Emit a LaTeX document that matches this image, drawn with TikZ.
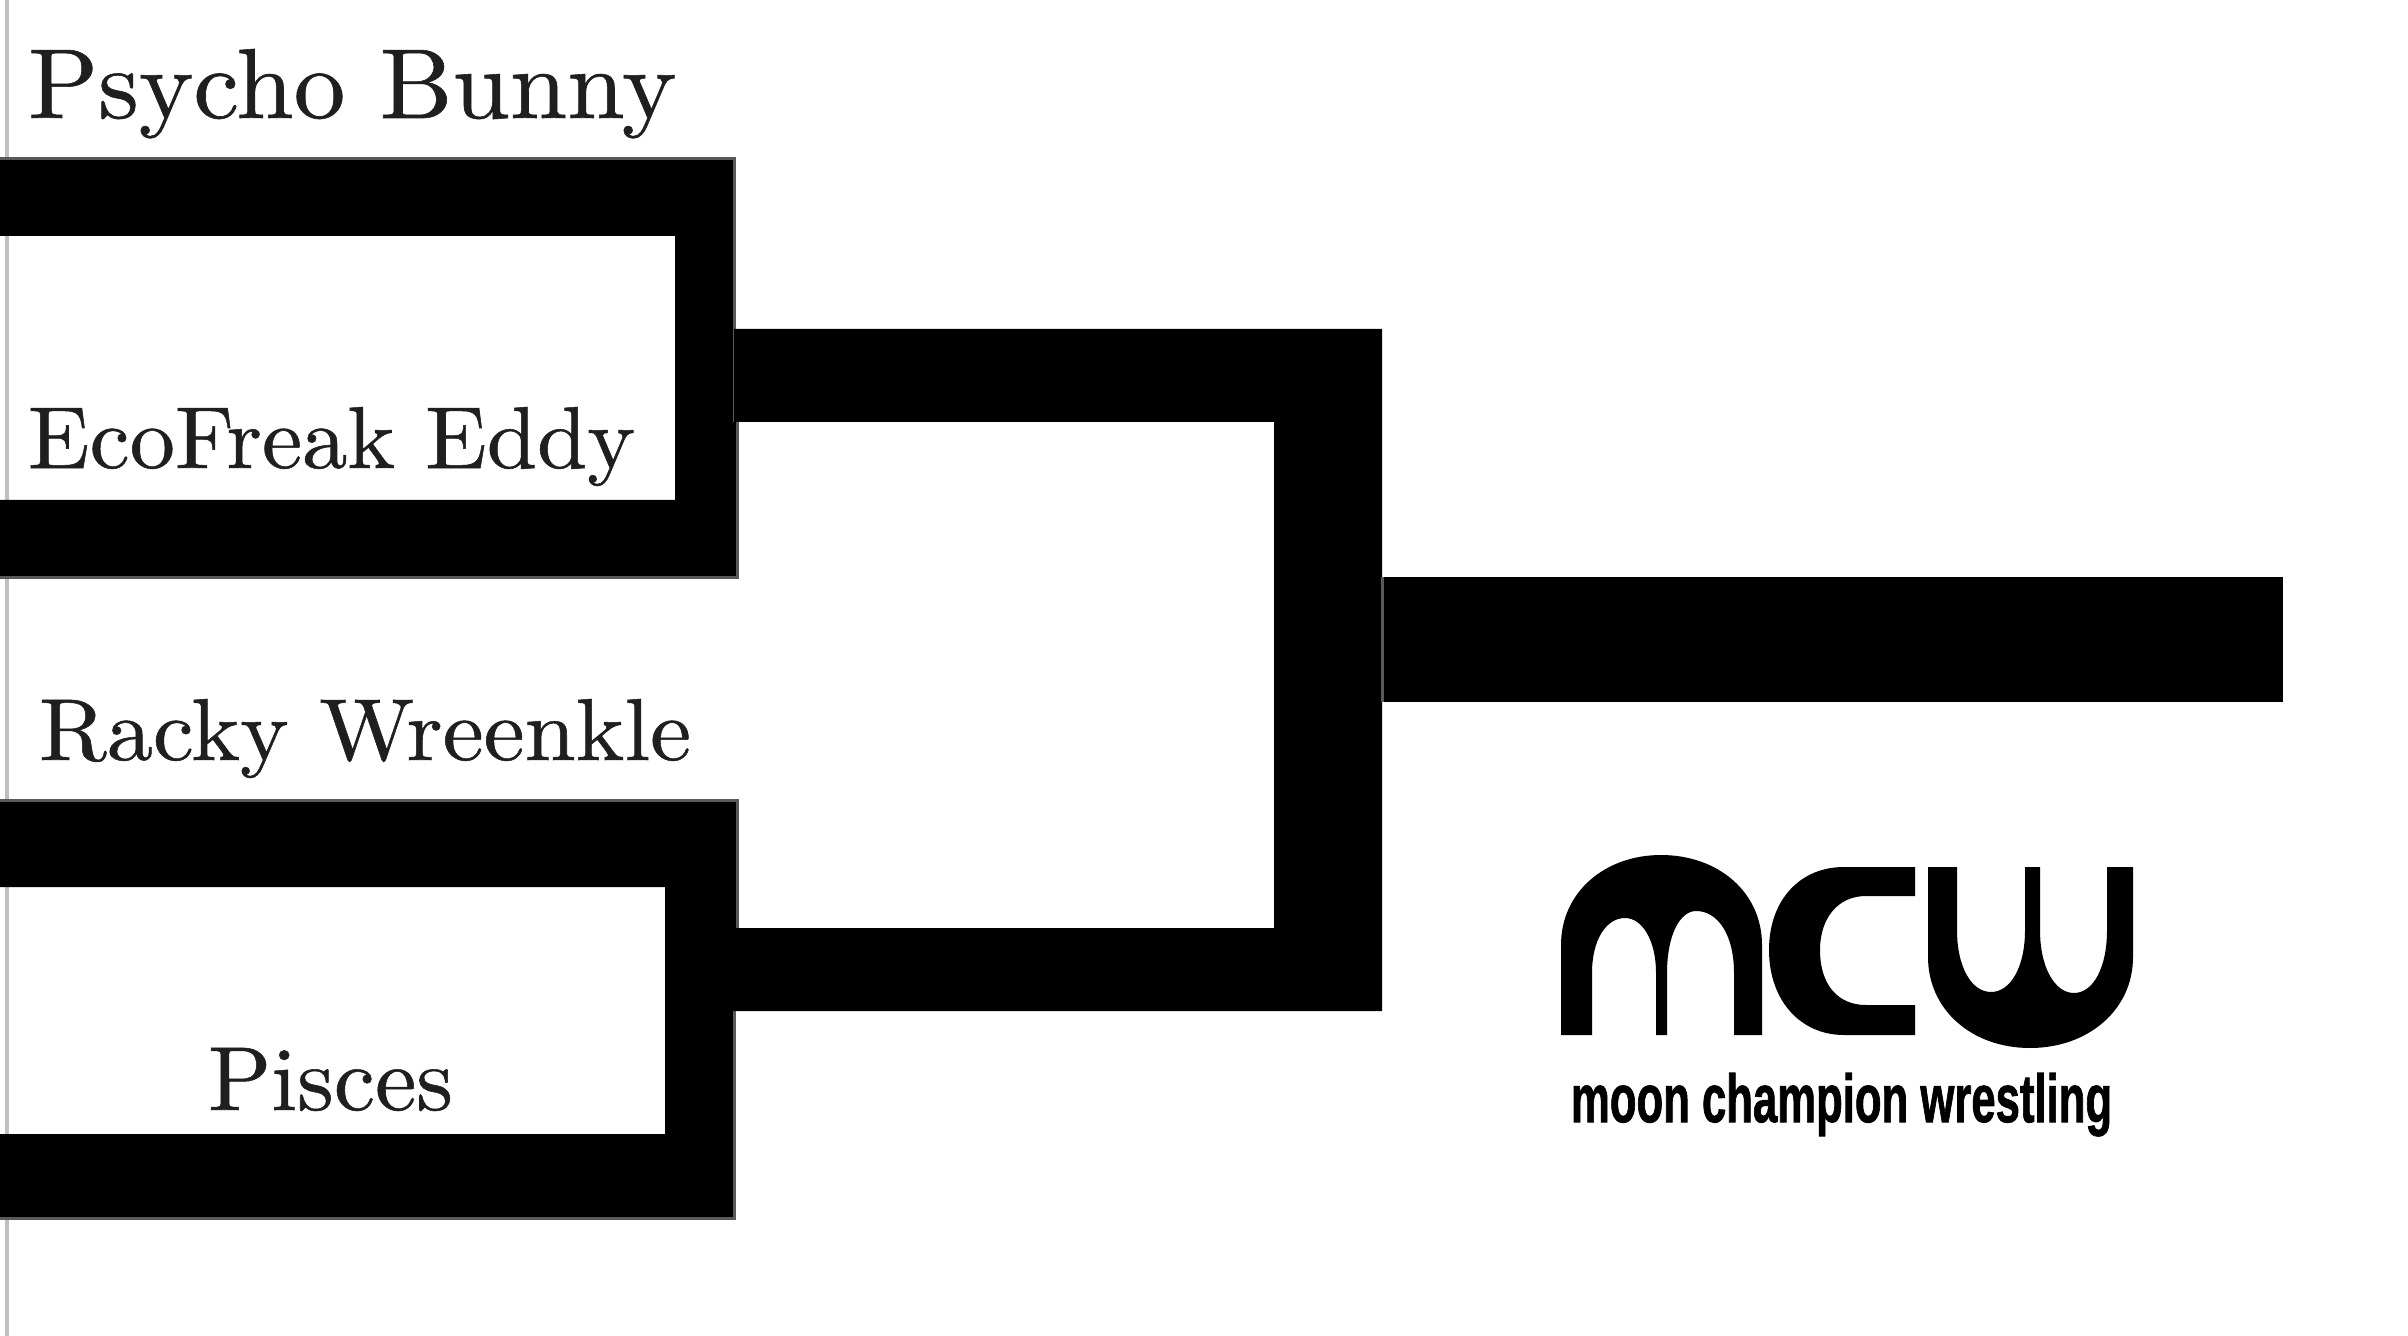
\documentclass[tikz,border=0pt]{standalone}
\usepackage{graphicx}
\usepackage{fontspec}
\newfontfamily\logofont{Liberation Sans}[BoldFeatures={FakeBold=1.5}]
\newfontfamily\namefont{Latin Modern Roman}[FakeBold=0.6]
\tikzset{
  wrestler/.style={anchor=base west,inner sep=0pt,outer sep=0pt,text=black!88,font=\namefont},
  bar/.style={fill=black},
  rim/.style={draw=black!65,line width=1.5}
}
\newlength{\pxunit}
\setlength{\pxunit}{0.5pt}
\newcommand{\fitname}[3]{\resizebox{#1\pxunit}{#2\pxunit}{#3}}

\begin{document}
\begin{tikzpicture}[x=0.5pt,y=-0.5pt]
  \useasboundingbox (0,0) rectangle (2408,1336);
  \draw [black!25,line width=2] (7,0) -- (7,1336);
  % first round
  \fill [bar] (0,159) -- (734,159) -- (734,577) -- (0,577) -- (0,500) -- (675,500) -- (675,236) -- (0,236) -- cycle;
  \fill [bar] (0,800) -- (734,800) -- (734,1218) -- (0,1218) -- (0,1134) -- (665,1134) -- (665,887) -- (0,887) -- cycle;
  \fill [bar] (734,422) rectangle (737,577);
  \fill [bar] (734,800) rectangle (737,928);
  \draw [rim] (0,159) -- (734,159) -- (734,422);
  \draw [rim] (737,422) -- (737,577) -- (0,577);
  \draw [rim] (0,800) -- (737,800) -- (737,928);
  \draw [rim] (734,1011) -- (734,1218) -- (0,1218);
  % second round
  \fill [bar] (734,329) -- (1382,329) -- (1382,1011) -- (734,1011) -- (734,928) -- (1274,928) -- (1274,422) -- (734,422) -- cycle;
  \fill [bar] (1382,577) rectangle (2283,702);
  \draw [rim] (1382,577) -- (1382,702);
  % names
  \node [wrestler] (psycho) at (28,118) {\fitname{648}{69}{Psycho Bunny}};
  \node [wrestler] (eddy) at (28,468) {\fitname{607}{61}{EcoFreak Eddy}};
  \node [wrestler] (racky) at (39,760) {\fitname{652}{61}{Racky Wreenkle}};
  \node [wrestler] (pisces) at (208,1110) {\fitname{245}{62}{Pisces}};
  % logo
  \fill (1561,1035) -- (1561,945) .. controls (1561,892) and (1605,855) .. (1661,855) .. controls (1718,855) and (1762,892) .. (1762,945) -- (1762,1035) -- (1734,1035) -- (1734,973) .. controls (1734,935) and (1718,911) .. (1696,911) .. controls (1680,911) and (1667,935) .. (1667,973) -- (1667,1035) -- (1656,1035) -- (1656,973) .. controls (1656,940) and (1642,918) .. (1625,918) .. controls (1606,918) and (1592,940) .. (1592,973) -- (1592,1035) -- cycle;
  \fill (1915,867) -- (1844,867) .. controls (1800,867) and (1769,900) .. (1769,950) .. controls (1769,1000) and (1800,1035) .. (1844,1035) -- (1915,1035) -- (1915,1005) -- (1866,1005) .. controls (1838,1005) and (1820,985) .. (1820,950) .. controls (1820,918) and (1838,896) .. (1866,896) -- (1915,896) -- cycle;
  \fill (1928,867) -- (1957,867) -- (1957,930) .. controls (1957,968) and (1972,992) .. (1991,992) .. controls (2010,992) and (2025,968) .. (2025,930) -- (2025,867) -- (2040,867) -- (2040,930) .. controls (2040,968) and (2055,993) .. (2074,993) .. controls (2093,993) and (2107,968) .. (2107,930) -- (2107,867) -- (2133,867) -- (2133,957) .. controls (2133,1010) and (2088,1048) .. (2030,1048) .. controls (1972,1048) and (1928,1010) .. (1928,957) -- cycle;
  \node [wrestler,text=black] (slogan) at (1571,1122) {\fitname{541}{49}{\logofont\bfseries moon champion wrestling}};
\end{tikzpicture}
\end{document}
